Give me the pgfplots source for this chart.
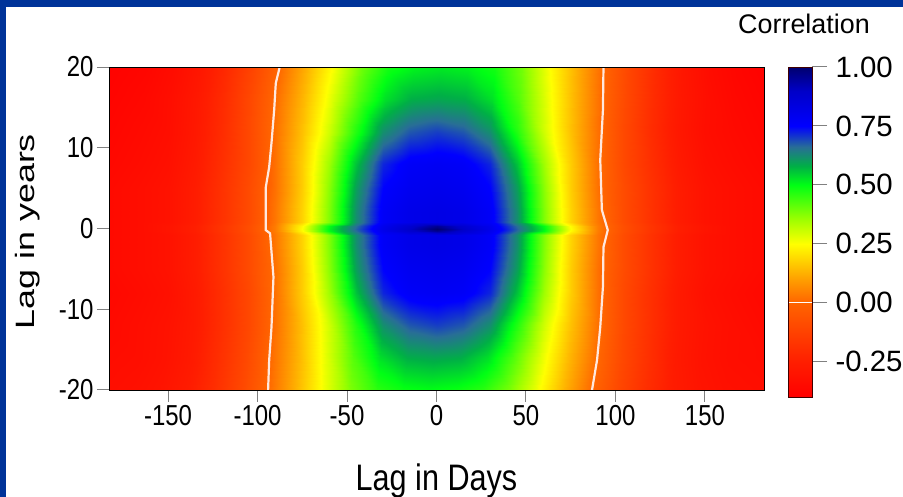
\documentclass[border=0pt]{standalone}
\usepackage{graphicx}
\usepackage{fontspec}
\setmainfont{Liberation Sans}
\newfontfamily\cond{Liberation Sans}[FakeStretch=0.83]
\usepackage{pgfplots}
\pgfplotsset{compat=1.18}
\definecolor{frameblue}{RGB}{0,51,153}
\definecolor{contourc}{RGB}{255,232,222}
\pgfplotsset{
  colormap={corr}{rgb255(0pt)=(255,0,0); rgb255(15pt)=(255,30,0); rgb255(40pt)=(255,100,0); rgb255(50pt)=(255,160,0); rgb255(65pt)=(255,255,0); rgb255(75pt)=(160,255,0); rgb255(90pt)=(0,255,20); rgb255(98pt)=(0,175,70); rgb255(106pt)=(40,110,150); rgb255(115pt)=(0,0,255); rgb255(130pt)=(0,0,200); rgb255(140pt)=(0,0,110)},
}
\begin{document}
\begin{tikzpicture}
\path[use as bounding box] (0,0) rectangle (903bp,497bp);
\fill[frameblue] (0,0) rectangle (903bp,497bp);
\fill[white] (6bp,0) rectangle (903bp,490bp);
\node[anchor=base, font=\fontsize{27}{30}\selectfont] at (804bp,463bp) {Correlation};
\begin{axis}[
  scale only axis, width=655bp, height=323bp,
  at={(109bp,107bp)}, anchor=south west,
  xmin=-183, xmax=183, ymin=-20, ymax=20,
  xtick={-150,-100,-50,0,50,100,150},
  xticklabels={-150,-100,-50,0,50,100,150},
  ytick={-20,-10,0,10,20},
  yticklabels={-20,-10,0,10,20},
  tick pos=left, tick align=outside,
  major tick length=12bp,
  tick style={color=gray, line width=1bp},
  axis line style={black, line width=0.8bp},
  axis on top,
  ticklabel style={font=\cond\fontsize{29}{32}\selectfont},
  xlabel={Lag in Days},
  xlabel style={font=\cond\fontsize{37}{40}\selectfont, at={(axis description cs:0.5,-0.282)}, anchor=center},
  ylabel={\scalebox{1}[0.74]{Lag in years}},
  ylabel style={font=\fontsize{36}{40}\selectfont, at={(axis description cs:-0.124,0.49)}, anchor=center},
  point meta min=-0.4, point meta max=1,
]
\addplot[surf, shader=interp, mesh/cols=25, point meta=explicit] coordinates {
(-183,-20) [-0.33] (-168.5,-20) [-0.32] (-153.5,-20) [-0.30] (-138.5,-20) [-0.26] (-123.5,-20) [-0.19] (-108.5,-20) [-0.10] (-93.5,-20) [0.01] (-78.5,-20) [0.13] (-63.5,-20) [0.26] (-48.5,-20) [0.38] (-33.5,-20) [0.46] (-18.5,-20) [0.49] (-3.5,-20) [0.50] (11.5,-20) [0.49] (26.5,-20) [0.46] (41.5,-20) [0.38] (56.5,-20) [0.26] (71.5,-20) [0.13] (86.5,-20) [0.01] (101.5,-20) [-0.10] (116.5,-20) [-0.19] (131.5,-20) [-0.26] (146.5,-20) [-0.30] (161.5,-20) [-0.32] (183,-20) [-0.33]
(-183,-16) [-0.34] (-166.5,-16) [-0.33] (-151.5,-16) [-0.31] (-136.5,-16) [-0.27] (-121.5,-16) [-0.19] (-106.5,-16) [-0.10] (-91.5,-16) [0.02] (-76.5,-16) [0.14] (-61.5,-16) [0.28] (-46.5,-16) [0.42] (-31.5,-16) [0.53] (-16.5,-16) [0.58] (-1.5,-16) [0.59] (13.5,-16) [0.58] (28.5,-16) [0.53] (43.5,-16) [0.42] (58.5,-16) [0.28] (73.5,-16) [0.14] (88.5,-16) [0.02] (103.5,-16) [-0.10] (118.5,-16) [-0.19] (133.5,-16) [-0.27] (148.5,-16) [-0.31] (163.5,-16) [-0.33] (183,-16) [-0.34]
(-183,-12) [-0.35] (-165,-12) [-0.33] (-150,-12) [-0.31] (-135,-12) [-0.27] (-120,-12) [-0.19] (-105,-12) [-0.10] (-90,-12) [0.02] (-75,-12) [0.15] (-60,-12) [0.30] (-45,-12) [0.47] (-30,-12) [0.62] (-15,-12) [0.68] (0,-12) [0.70] (15,-12) [0.68] (30,-12) [0.62] (45,-12) [0.47] (60,-12) [0.30] (75,-12) [0.15] (90,-12) [0.02] (105,-12) [-0.10] (120,-12) [-0.19] (135,-12) [-0.27] (150,-12) [-0.31] (165,-12) [-0.33] (183,-12) [-0.35]
(-183,-8) [-0.36] (-165,-8) [-0.34] (-150,-8) [-0.32] (-135,-8) [-0.27] (-120,-8) [-0.19] (-105,-8) [-0.10] (-90,-8) [0.02] (-75,-8) [0.17] (-60,-8) [0.35] (-45,-8) [0.56] (-30,-8) [0.72] (-15,-8) [0.77] (0,-8) [0.78] (15,-8) [0.77] (30,-8) [0.72] (45,-8) [0.56] (60,-8) [0.35] (75,-8) [0.17] (90,-8) [0.02] (105,-8) [-0.10] (120,-8) [-0.19] (135,-8) [-0.27] (150,-8) [-0.32] (165,-8) [-0.34] (183,-8) [-0.36]
(-183,-5) [-0.35] (-165,-5) [-0.33] (-150,-5) [-0.31] (-135,-5) [-0.26] (-120,-5) [-0.18] (-105,-5) [-0.09] (-90,-5) [0.02] (-75,-5) [0.17] (-60,-5) [0.37] (-45,-5) [0.60] (-30,-5) [0.75] (-15,-5) [0.79] (0,-5) [0.80] (15,-5) [0.79] (30,-5) [0.75] (45,-5) [0.60] (60,-5) [0.37] (75,-5) [0.17] (90,-5) [0.02] (105,-5) [-0.09] (120,-5) [-0.18] (135,-5) [-0.26] (150,-5) [-0.31] (165,-5) [-0.33] (183,-5) [-0.35]
(-183,-2) [-0.35] (-165,-2) [-0.33] (-150,-2) [-0.31] (-135,-2) [-0.26] (-120,-2) [-0.18] (-105,-2) [-0.09] (-90,-2) [0.03] (-75,-2) [0.18] (-60,-2) [0.38] (-45,-2) [0.62] (-30,-2) [0.77] (-15,-2) [0.81] (0,-2) [0.82] (15,-2) [0.81] (30,-2) [0.77] (45,-2) [0.62] (60,-2) [0.38] (75,-2) [0.18] (90,-2) [0.03] (105,-2) [-0.09] (120,-2) [-0.18] (135,-2) [-0.26] (150,-2) [-0.31] (165,-2) [-0.33] (183,-2) [-0.35]
(-183,-0.8) [-0.35] (-165,-0.8) [-0.33] (-150,-0.8) [-0.31] (-135,-0.8) [-0.26] (-120,-0.8) [-0.18] (-105,-0.8) [-0.09] (-90,-0.8) [0.03] (-75,-0.8) [0.18] (-60,-0.8) [0.38] (-45,-0.8) [0.62] (-30,-0.8) [0.77] (-15,-0.8) [0.81] (0,-0.8) [0.82] (15,-0.8) [0.81] (30,-0.8) [0.77] (45,-0.8) [0.62] (60,-0.8) [0.38] (75,-0.8) [0.18] (90,-0.8) [0.03] (105,-0.8) [-0.09] (120,-0.8) [-0.18] (135,-0.8) [-0.26] (150,-0.8) [-0.31] (165,-0.8) [-0.33] (183,-0.8) [-0.35]
(-183,-0.3) [-0.35] (-165,-0.3) [-0.33] (-150,-0.3) [-0.30] (-135,-0.3) [-0.25] (-120,-0.3) [-0.17] (-105,-0.3) [-0.08] (-90,-0.3) [0.04] (-75,-0.3) [0.24] (-60,-0.3) [0.50] (-45,-0.3) [0.66] (-30,-0.3) [0.80] (-15,-0.3) [0.88] (0,-0.3) [0.96] (15,-0.3) [0.88] (30,-0.3) [0.80] (45,-0.3) [0.66] (60,-0.3) [0.50] (75,-0.3) [0.24] (90,-0.3) [0.04] (105,-0.3) [-0.08] (120,-0.3) [-0.17] (135,-0.3) [-0.25] (150,-0.3) [-0.30] (165,-0.3) [-0.33] (183,-0.3) [-0.35]
(-183,0) [-0.35] (-165,0) [-0.33] (-150,0) [-0.30] (-135,0) [-0.25] (-120,0) [-0.17] (-105,0) [-0.08] (-90,0) [0.04] (-75,0) [0.25] (-60,0) [0.51] (-45,0) [0.67] (-30,0) [0.81] (-15,0) [0.90] (0,0) [1.00] (15,0) [0.90] (30,0) [0.81] (45,0) [0.67] (60,0) [0.51] (75,0) [0.25] (90,0) [0.04] (105,0) [-0.08] (120,0) [-0.17] (135,0) [-0.25] (150,0) [-0.30] (165,0) [-0.33] (183,0) [-0.35]
(-183,0.3) [-0.35] (-165,0.3) [-0.33] (-150,0.3) [-0.30] (-135,0.3) [-0.25] (-120,0.3) [-0.17] (-105,0.3) [-0.08] (-90,0.3) [0.04] (-75,0.3) [0.24] (-60,0.3) [0.50] (-45,0.3) [0.66] (-30,0.3) [0.80] (-15,0.3) [0.88] (0,0.3) [0.96] (15,0.3) [0.88] (30,0.3) [0.80] (45,0.3) [0.66] (60,0.3) [0.50] (75,0.3) [0.24] (90,0.3) [0.04] (105,0.3) [-0.08] (120,0.3) [-0.17] (135,0.3) [-0.25] (150,0.3) [-0.30] (165,0.3) [-0.33] (183,0.3) [-0.35]
(-183,0.8) [-0.35] (-165,0.8) [-0.33] (-150,0.8) [-0.31] (-135,0.8) [-0.26] (-120,0.8) [-0.18] (-105,0.8) [-0.09] (-90,0.8) [0.03] (-75,0.8) [0.18] (-60,0.8) [0.38] (-45,0.8) [0.62] (-30,0.8) [0.77] (-15,0.8) [0.81] (0,0.8) [0.82] (15,0.8) [0.81] (30,0.8) [0.77] (45,0.8) [0.62] (60,0.8) [0.38] (75,0.8) [0.18] (90,0.8) [0.03] (105,0.8) [-0.09] (120,0.8) [-0.18] (135,0.8) [-0.26] (150,0.8) [-0.31] (165,0.8) [-0.33] (183,0.8) [-0.35]
(-183,2) [-0.35] (-165,2) [-0.33] (-150,2) [-0.31] (-135,2) [-0.26] (-120,2) [-0.18] (-105,2) [-0.09] (-90,2) [0.03] (-75,2) [0.18] (-60,2) [0.38] (-45,2) [0.62] (-30,2) [0.77] (-15,2) [0.81] (0,2) [0.82] (15,2) [0.81] (30,2) [0.77] (45,2) [0.62] (60,2) [0.38] (75,2) [0.18] (90,2) [0.03] (105,2) [-0.09] (120,2) [-0.18] (135,2) [-0.26] (150,2) [-0.31] (165,2) [-0.33] (183,2) [-0.35]
(-183,5) [-0.35] (-165,5) [-0.33] (-150,5) [-0.31] (-135,5) [-0.26] (-120,5) [-0.18] (-105,5) [-0.09] (-90,5) [0.02] (-75,5) [0.17] (-60,5) [0.37] (-45,5) [0.60] (-30,5) [0.75] (-15,5) [0.79] (0,5) [0.80] (15,5) [0.79] (30,5) [0.75] (45,5) [0.60] (60,5) [0.37] (75,5) [0.17] (90,5) [0.02] (105,5) [-0.09] (120,5) [-0.18] (135,5) [-0.26] (150,5) [-0.31] (165,5) [-0.33] (183,5) [-0.35]
(-183,8) [-0.36] (-165,8) [-0.34] (-150,8) [-0.32] (-135,8) [-0.27] (-120,8) [-0.19] (-105,8) [-0.10] (-90,8) [0.02] (-75,8) [0.17] (-60,8) [0.35] (-45,8) [0.56] (-30,8) [0.72] (-15,8) [0.77] (0,8) [0.78] (15,8) [0.77] (30,8) [0.72] (45,8) [0.56] (60,8) [0.35] (75,8) [0.17] (90,8) [0.02] (105,8) [-0.10] (120,8) [-0.19] (135,8) [-0.27] (150,8) [-0.32] (165,8) [-0.34] (183,8) [-0.36]
(-183,12) [-0.37] (-165,12) [-0.35] (-150,12) [-0.33] (-135,12) [-0.28] (-120,12) [-0.20] (-105,12) [-0.10] (-90,12) [0.02] (-75,12) [0.15] (-60,12) [0.30] (-45,12) [0.47] (-30,12) [0.62] (-15,12) [0.68] (0,12) [0.70] (15,12) [0.68] (30,12) [0.62] (45,12) [0.47] (60,12) [0.30] (75,12) [0.15] (90,12) [0.02] (105,12) [-0.10] (120,12) [-0.20] (135,12) [-0.28] (150,12) [-0.33] (165,12) [-0.35] (183,12) [-0.37]
(-183,16) [-0.38] (-164,16) [-0.36] (-149,16) [-0.33] (-134,16) [-0.28] (-119,16) [-0.20] (-104,16) [-0.10] (-89,16) [0.02] (-74,16) [0.14] (-59,16) [0.28] (-44,16) [0.42] (-29,16) [0.53] (-14,16) [0.58] (1,16) [0.59] (16,16) [0.58] (31,16) [0.53] (46,16) [0.42] (61,16) [0.28] (76,16) [0.14] (91,16) [0.02] (106,16) [-0.10] (121,16) [-0.20] (136,16) [-0.28] (151,16) [-0.33] (166,16) [-0.36] (183,16) [-0.38]
(-183,20) [-0.39] (-162.5,20) [-0.37] (-147.5,20) [-0.34] (-132.5,20) [-0.29] (-117.5,20) [-0.21] (-102.5,20) [-0.11] (-87.5,20) [0.01] (-72.5,20) [0.13] (-57.5,20) [0.26] (-42.5,20) [0.39] (-27.5,20) [0.48] (-12.5,20) [0.51] (2.5,20) [0.52] (17.5,20) [0.51] (32.5,20) [0.48] (47.5,20) [0.39] (62.5,20) [0.26] (77.5,20) [0.13] (92.5,20) [0.01] (107.5,20) [-0.11] (122.5,20) [-0.21] (137.5,20) [-0.29] (152.5,20) [-0.34] (167.5,20) [-0.37] (183,20) [-0.39]
};
\addplot[contourc, line width=2.2bp, no markers] coordinates {
(-87.6,20) (-89.8,18) (-90.7,14.7) (-92.2,10.6) (-93.5,7.6) (-95.4,5.1) (-95.4,-0.2) (-93,-0.6) (-91.1,-6) (-92.2,-12.2) (-93.5,-16.3) (-94.1,-20)
};
\addplot[contourc, line width=2.2bp, no markers] coordinates {
(93.3,20) (93,14.7) (91.5,8.5) (92.4,2.3) (95.7,-0.2) (93.3,-2.3) (93,-7.2) (91.5,-12.2) (89.7,-16.3) (86.9,-20)
};
\end{axis}
\begin{axis}[
  scale only axis, width=24bp, height=330bp,
  at={(788bp,100bp)}, anchor=south west,
  xmin=0, xmax=1, ymin=-0.4, ymax=1,
  xtick=\empty,
  ytick={-0.25,0,0.25,0.5,0.75,1},
  yticklabels={-0.25,0.00,0.25,0.50,0.75,1.00},
  ytick pos=right, yticklabel pos=right,
  yticklabel style={font=\fontsize{29.5}{32}\selectfont, xshift=5bp},
  tick align=outside, major tick length=15bp,
  tick style={color=gray, line width=1bp},
  axis line style={black!75!red, line width=0.8bp},
  axis on top,
  point meta min=-0.4, point meta max=1,
]
\addplot[surf, shader=interp, mesh/cols=2, point meta=explicit] coordinates {
(0,-0.4) [-0.4] (1,-0.4) [-0.4]
(0,-0.25) [-0.25] (1,-0.25) [-0.25]
(0,0) [0] (1,0) [0]
(0,0.1) [0.1] (1,0.1) [0.1]
(0,0.25) [0.25] (1,0.25) [0.25]
(0,0.35) [0.35] (1,0.35) [0.35]
(0,0.5) [0.5] (1,0.5) [0.5]
(0,0.58) [0.58] (1,0.58) [0.58]
(0,0.66) [0.66] (1,0.66) [0.66]
(0,0.75) [0.75] (1,0.75) [0.75]
(0,0.9) [0.9] (1,0.9) [0.9]
(0,1) [1] (1,1) [1]
};
\addplot[white, line width=1.2bp, no markers] coordinates {(0,0) (1,0)};
\end{axis}
\end{tikzpicture}
\end{document}
